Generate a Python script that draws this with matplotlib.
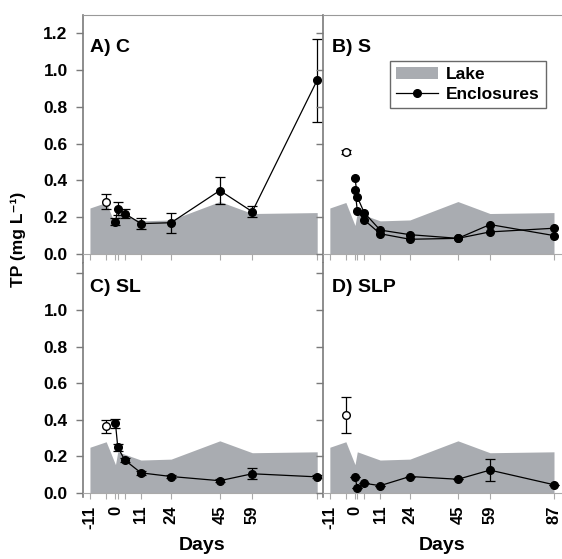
import matplotlib
matplotlib.use("Agg")
import matplotlib.pyplot as plt
from matplotlib.patches import Patch
from matplotlib.lines import Line2D

plt.rcParams['font.family'] = ['Liberation Sans', 'DejaVu Sans']
plt.rcParams['font.weight'] = 'bold'

# ---------------- data ----------------
lake_days = [-11, -4, 0, 1, 11, 24, 45, 59, 87]
lake_tp = [0.25, 0.28, 0.155, 0.225, 0.18, 0.185, 0.285, 0.22, 0.225]

days = [0, 1, 4, 11, 24, 45, 59, 87]
pre_day = -4

A_pre, A_pre_err = 0.285, 0.04
A_tp = [0.175, 0.245, 0.22, 0.165, 0.17, 0.345, 0.23, 0.945]
A_err = [0.02, 0.035, 0.025, 0.03, 0.055, 0.075, 0.03, 0.225]

B_pre, B_pre_err = 0.555, 0.012
B_tp1 = [0.415, 0.31, 0.225, 0.13, 0.105, 0.085, 0.16, 0.10]
B_tp2 = [0.35, 0.235, 0.185, 0.11, 0.08, 0.085, 0.12, 0.14]

C_pre, C_pre_err = 0.365, 0.035
C_tp = [0.38, 0.25, 0.18, 0.11, 0.09, 0.067, 0.105, 0.088]
C_err = [0.025, 0.02, 0.01, 0.01, 0.008, 0.008, 0.03, 0.008]

D_pre, D_pre_err = 0.425, 0.098
D_tp = [0.09, 0.025, 0.053, 0.04, 0.09, 0.075, 0.125, 0.045]
D_err = [0.0, 0.0, 0.0, 0.0, 0.0, 0.0, 0.06, 0.0]

label_days = [-11, 0, 11, 24, 45, 59, 87]
minor_days = [-4, 1, 4]
yticks = [0.0, 0.2, 0.4, 0.6, 0.8, 1.0, 1.2]

# ---------------- figure ----------------
W, H = 562, 559
fig = plt.figure(figsize=(W / 100, H / 100), dpi=100)

def frac_rect(x0, x1, ytop, ybot):
    return [x0 / W, 1 - ybot / H, (x1 - x0) / W, (ybot - ytop) / H]

axA = fig.add_axes(frac_rect(83, 323, 15, 263))
axB = fig.add_axes(frac_rect(323, 562, 15, 263))
axC = fig.add_axes(frac_rect(83, 323, 263, 497))
axD = fig.add_axes(frac_rect(323, 562, 263, 497))

lake_color = '#a9acb1'
spine_color = '#7a7a7a'

def style(ax, top, left, bottom_labels, hide_last=False):
    ax.set_xlim(-14, 89.5 if left else 90.5)
    if top:
        ax.set_ylim(-0.049, 1.299)
    else:
        ax.set_ylim(-0.022, 1.257)
    ax.fill_between(lake_days, 0, lake_tp, color=lake_color, lw=0, zorder=1)
    ax.spines['right'].set_visible(False)
    ax.spines['top'].set_visible(top)
    ax.spines['top'].set_color('#999999')
    ax.spines['left'].set_color(spine_color)
    ax.spines['left'].set_linewidth(1.2)
    ax.spines['bottom'].set_position(('data', 0))
    ax.spines['bottom'].set_color('#aaaaaa')
    ax.spines['bottom'].set_linewidth(0.8)
    ax.set_yticks(yticks)
    ax.tick_params(axis='y', direction='out', length=5, width=1, color=spine_color, pad=6,
                   labelsize=12.5)
    if left:
        labs = ['%.1f' % v for v in yticks]
        if not top:
            labs[-1] = ''
        ax.set_yticklabels(labs)
    else:
        ax.set_yticklabels([])
    ax.set_xticks(label_days)
    ax.set_xticks(minor_days, minor=True)
    ax.tick_params(axis='x', which='both', direction='out', length=4, width=0.8,
                   color='#aaaaaa', pad=5, labelsize=12)
    if bottom_labels:
        labs = [str(d) for d in label_days]
        if hide_last:
            labs[-1] = ''
        ax.set_xticklabels(labs, rotation=90)
        ax.set_xlabel('Days', fontsize=14, fontweight='bold')
    else:
        ax.set_xticklabels([])
    for lab in ax.get_xticklabels() + ax.get_yticklabels():
        lab.set_fontweight('bold')

style(axA, True, True, False)
style(axB, True, False, False)
style(axC, False, True, True, hide_last=True)
style(axD, False, False, True)
axC.xaxis.set_label_coords(0.497, -0.17)
axD.xaxis.set_label_coords(0.50, -0.17)

ms = 5.5
cap = 3.5
lw = 0.9

def pre_point(ax, val, err):
    ax.errorbar([pre_day], [val], yerr=[err], fmt='o', mfc='white', mec='black',
                ms=ms, color='black', capsize=cap, elinewidth=0.9, capthick=0.9, zorder=4)

def series(ax, vals, errs=None):
    ax.errorbar(days, vals, yerr=errs, fmt='-o', color='black', mfc='black', mec='black',
                ms=ms, lw=lw, capsize=cap, elinewidth=0.9, capthick=0.9, zorder=3)

pre_point(axA, A_pre, A_pre_err)
series(axA, A_tp, A_err)
pre_point(axB, B_pre, B_pre_err)
series(axB, B_tp1)
series(axB, B_tp2)
pre_point(axC, C_pre, C_pre_err)
series(axC, C_tp, C_err)
pre_point(axD, D_pre, D_pre_err)
series(axD, D_tp, D_err)

for ax, txt, y in [(axA, 'A) C', 0.87), (axB, 'B) S', 0.87),
                   (axC, 'C) SL', 0.895), (axD, 'D) SLP', 0.895)]:
    ax.text(0.03 if ax in (axA, axC) else 0.038, y, txt, transform=ax.transAxes,
            fontsize=14, fontweight='bold', va='center', ha='left')

handles = [Patch(facecolor=lake_color, edgecolor='none'),
           Line2D([], [], color='black', marker='o', ms=ms, lw=lw)]
leg = axB.legend(handles, ['Lake', 'Enclosures'], loc='upper right',
                 bbox_to_anchor=(0.97, 0.85), fontsize=12.5, frameon=True, fancybox=False,
                 edgecolor='#444444', handlelength=2.4, handleheight=0.7,
                 borderpad=0.35, labelspacing=0.25, handletextpad=0.5)
leg.get_frame().set_linewidth(1.0)
for t in leg.get_texts():
    t.set_fontweight('bold')

fig.text(18 / W, 1 - 239 / H, 'TP (mg L\u207b\u00b9)', rotation=90, fontsize=12.5,
         fontweight='bold', ha='center', va='center')

fig.savefig('out.png', dpi=100)
